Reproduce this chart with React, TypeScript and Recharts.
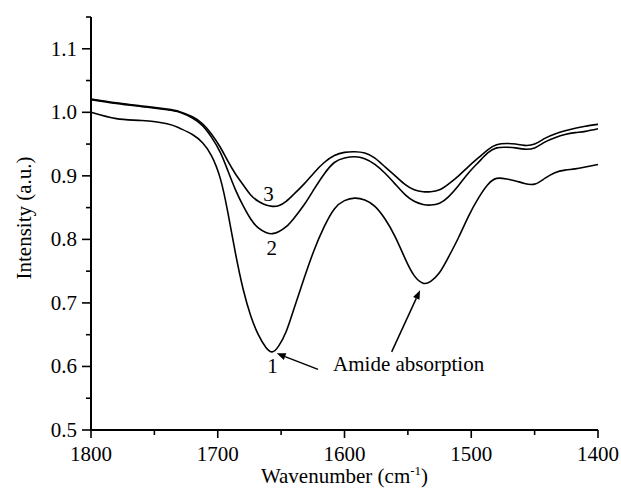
import { LineChart, Line, XAxis, YAxis, ReferenceDot, ReferenceLine, Label } from 'recharts';

// ---- data ----
const WAVENUMBERS = [
  1800, 1780, 1760, 1740, 1730, 1720, 1712, 1705, 1698, 1692, 1686, 1680, 1674, 1668, 1662, 1657,
  1652, 1646, 1640, 1632, 1624, 1616, 1608, 1600, 1592, 1584, 1576, 1568, 1560, 1552, 1545, 1538,
  1532, 1525, 1518, 1510, 1502, 1494, 1487, 1480, 1472, 1465, 1458, 1450, 1442, 1434, 1426, 1418,
  1410, 1400,
];
const CURVE_1 = [
  1.000, 0.990, 0.987, 0.982, 0.975, 0.965, 0.952, 0.932, 0.896, 0.842, 0.778, 0.722, 0.680, 0.650, 0.630, 0.623,
  0.632, 0.655, 0.690, 0.738, 0.783, 0.820, 0.848, 0.861, 0.865, 0.862, 0.852, 0.832, 0.804, 0.769, 0.743, 0.731,
  0.734, 0.748, 0.772, 0.803, 0.837, 0.866, 0.886, 0.896, 0.895, 0.892, 0.888, 0.887, 0.896, 0.905, 0.909, 0.911,
  0.914, 0.918,
];
const CURVE_2 = [
  1.020, 1.014, 1.009, 1.004, 1.000, 0.991, 0.979, 0.961, 0.937, 0.908, 0.878, 0.853, 0.832, 0.818, 0.811, 0.809,
  0.812, 0.820, 0.833, 0.854, 0.879, 0.903, 0.921, 0.928, 0.930, 0.927, 0.918, 0.904, 0.887, 0.870, 0.860, 0.855,
  0.854, 0.857, 0.867, 0.885, 0.905, 0.922, 0.936, 0.944, 0.945, 0.944, 0.942, 0.944, 0.953, 0.960, 0.965, 0.968,
  0.970, 0.974,
];
const CURVE_3 = [
  1.021, 1.015, 1.010, 1.005, 1.001, 0.993, 0.982, 0.966, 0.945, 0.923, 0.903, 0.886, 0.870, 0.860, 0.854, 0.852,
  0.853, 0.860, 0.871, 0.887, 0.905, 0.921, 0.932, 0.937, 0.938, 0.936, 0.928, 0.914, 0.900, 0.886, 0.878, 0.875,
  0.875, 0.878, 0.887, 0.900, 0.915, 0.929, 0.941, 0.949, 0.951, 0.950, 0.948, 0.950, 0.959, 0.966, 0.971, 0.975,
  0.978, 0.981,
];

const X_TICKS = [1400, 1450, 1500, 1550, 1600, 1650, 1700, 1750, 1800];
const X_LABELS = [1400, 1500, 1600, 1700, 1800];
const Y_TICKS = [0.5, 0.55, 0.6, 0.65, 0.7, 0.75, 0.8, 0.85, 0.9, 0.95, 1.0, 1.05, 1.1, 1.15];
const Y_LABELS = [0.5, 0.6, 0.7, 0.8, 0.9, 1.0, 1.1];

// curve numbers and the annotation text, in data coordinates
const CURVE_TAGS = [
  { text: '3', wn: 1660, v: 0.860 },
  { text: '2', wn: 1657.4, v: 0.775 },
  { text: '1', wn: 1656.8, v: 0.5896 },
];
const NOTE = { text: 'Amide absorption', wn: 1609, v: 0.593 };
const ARROWS = [
  { from: { x: 1620.9, y: 0.5954 }, to: { x: 1653.5, y: 0.6206 } },
  { from: { x: 1562.8, y: 0.623 }, to: { x: 1540.4, y: 0.72 } },
];

const rows = WAVENUMBERS.map((wn, i) => ({ wn, c1: CURVE_1[i], c2: CURVE_2[i], c3: CURVE_3[i] }));

const INK = '#000';
const TXT = { fontFamily: 'Liberation Serif, Times New Roman, serif', fontSize: 21, fill: INK };

function XTick({ x, y, payload }: any) {
  const major = X_LABELS.includes(payload.value);
  return (
    <g>
      <line x1={x} x2={x} y1={y} y2={y + (major ? 8 : 5)} stroke={INK} strokeWidth={1.6} />
      {major && <text x={x} y={y + 31} textAnchor="middle" style={TXT}>{payload.value}</text>}
    </g>
  );
}

function YTick({ x, y, payload }: any) {
  const major = Y_LABELS.some(v => Math.abs(v - payload.value) < 1e-6);
  return (
    <g>
      <line x1={x - (major ? 9 : 5)} x2={x} y1={y} y2={y} stroke={INK} strokeWidth={1.6} />
      {major && <text x={x - 14} y={y + 7} textAnchor="end" style={TXT}>{payload.value.toFixed(1)}</text>}
    </g>
  );
}

function Arrow({ x1, y1, x2, y2 }: any) {
  const a = Math.atan2(y2 - y1, x2 - x1);
  const len = 9, half = 3.5;
  const bx = x2 - len * Math.cos(a), by = y2 - len * Math.sin(a);
  const px = -Math.sin(a) * half, py = Math.cos(a) * half;
  return (
    <g>
      <line x1={x1} y1={y1} x2={bx} y2={by} stroke={INK} strokeWidth={1.5} />
      <polygon points={`${x2},${y2} ${bx + px},${by + py} ${bx - px},${by - py}`} fill={INK} />
    </g>
  );
}

export default function App() {
  return (
    <div style={{ position: 'absolute', left: 0, top: 0, background: '#fff' }}>
      <LineChart width={621} height={492} data={rows} margin={{ top: 17, right: 23, bottom: 22, left: 31 }}>
        <XAxis dataKey="wn" type="number" domain={[1400, 1800]} reversed ticks={X_TICKS} interval={0}
          height={40} tickSize={0} tickMargin={0} tick={<XTick />} tickLine={false}
          axisLine={{ stroke: INK, strokeWidth: 2 }}>
          <Label content={() => (
            <text x={344.5} y={483} textAnchor="middle" style={TXT}>
              Wavenumber (cm<tspan dy={-8} fontSize={13}>-1</tspan><tspan dy={8}>)</tspan>
            </text>
          )} />
        </XAxis>
        <YAxis type="number" domain={[0.5, 1.15]} ticks={Y_TICKS} interval={0} allowDataOverflow
          width={60} tickSize={0} tickMargin={0} tick={<YTick />} tickLine={false}
          axisLine={{ stroke: INK, strokeWidth: 2 }}>
          <Label content={() => (
            <text x={31} y={218} transform="rotate(-90 31 218)" textAnchor="middle" style={TXT}>
              Intensity (a.u.)
            </text>
          )} />
        </YAxis>

        <Line dataKey="c1" type="natural" stroke={INK} strokeWidth={1.6} dot={false} isAnimationActive={false} />
        <Line dataKey="c2" type="natural" stroke={INK} strokeWidth={1.6} dot={false} isAnimationActive={false} />
        <Line dataKey="c3" type="natural" stroke={INK} strokeWidth={1.6} dot={false} isAnimationActive={false} />

        {CURVE_TAGS.map(t => (
          <ReferenceDot key={t.text} x={t.wn} y={t.v} r={0} ifOverflow="visible"
            shape={(p: any) => <text x={p.cx} y={p.cy} textAnchor="middle" style={TXT}>{t.text}</text>} />
        ))}
        <ReferenceDot x={NOTE.wn} y={NOTE.v} r={0} ifOverflow="visible"
          shape={(p: any) => <text x={p.cx} y={p.cy} textAnchor="start" style={TXT}>{NOTE.text}</text>} />
        {ARROWS.map((a, i) => (
          <ReferenceLine key={i} segment={[a.from, a.to]} ifOverflow="visible" shape={<Arrow />} />
        ))}
      </LineChart>
    </div>
  );
}
